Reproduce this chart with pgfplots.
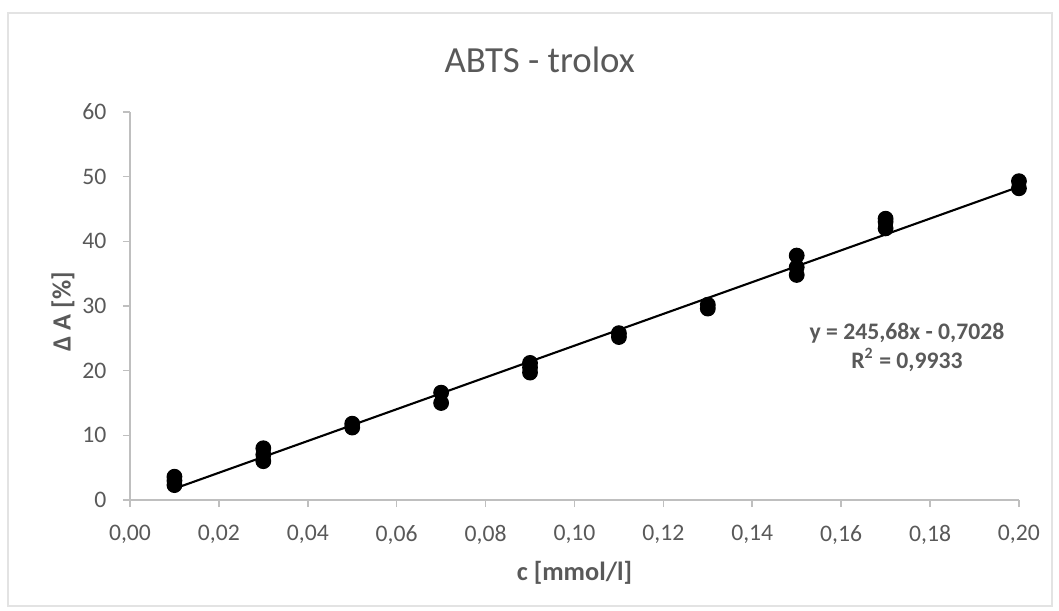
\documentclass[border=0pt]{standalone}
\usepackage{pgfplots}
\pgfplotsset{compat=1.18}
\usepackage{fontspec}
\setmainfont{Carlito}
\definecolor{txtgrey}{HTML}{595959}
\definecolor{axisgrey}{HTML}{BFBFBF}
\definecolor{framegrey}{HTML}{E3E3E3}
\begin{document}
\begin{tikzpicture}
% page size and chart-area frame
\path[use as bounding box] (-49.4pt,-42.18pt) rectangle (353.02pt,190pt);
\draw[framegrey, line width=0.6pt] (-46.4pt,-40.3pt) rectangle (350.4pt,185pt);
\begin{axis}[
  scale only axis,
  width=337.8pt, height=147.44pt,
  xmin=0, xmax=0.2, ymin=0, ymax=60,
  clip=false,
  axis lines*=left,
  axis line style={axisgrey, line width=0.6pt},
  xtick={0,0.02,0.04,0.06,0.08,0.1,0.12,0.14,0.16,0.18,0.2},
  ytick={0,10,20,30,40,50,60},
  tick align=outside,
  major tick length=2.7pt,
  tick style={axisgrey, line width=0.6pt},
  ticklabel style={font=\fontsize{9}{11}\selectfont, text=txtgrey},
  /pgf/number format/assume math mode=true,
  scaled x ticks=false,
  xticklabel style={yshift=-3.4pt, /pgf/number format/.cd, fixed, fixed zerofill, precision=2, use comma},
  yticklabel style={xshift=-2.7pt, /pgf/number format/.cd, fixed, precision=0},
  xlabel={c [mmol/l]},
  ylabel={Δ A [\%]},
  label style={font=\bfseries\fontsize{10}{12}\selectfont, text=txtgrey},
  xlabel style={at={(axis description cs:0.5,-0.188)}, anchor=center},
  ylabel style={at={(axis description cs:-0.0754,0.485)}, anchor=center},
  title={ABTS - trolox},
  title style={at={(axis description cs:0.461,1.095)}, anchor=center,
               font=\fontsize{14}{17}\selectfont, text=txtgrey},
]
% measured values
\addplot[only marks, mark=*, mark size=2.8pt, black] coordinates {
  (0.01,2.3) (0.01,3.0) (0.01,3.6)
  (0.03,6.0) (0.03,7.0) (0.03,8.0)
  (0.05,11.2) (0.05,11.8)
  (0.07,15.0) (0.07,16.6)
  (0.09,19.7) (0.09,20.5) (0.09,21.2)
  (0.11,25.2) (0.11,25.8)
  (0.13,29.6) (0.13,30.2)
  (0.15,34.8) (0.15,36.0) (0.15,37.8)
  (0.17,42.0) (0.17,43.0) (0.17,43.5)
  (0.20,48.2) (0.20,49.3)
};
% linear trend line y = 245.68x - 0.7028
\addplot[black, line width=0.8pt] coordinates {(0.01,1.7540) (0.20,48.4332)};
\node[align=center, font=\bfseries\fontsize{9}{11}\selectfont, text=txtgrey]
  at (axis cs:0.1748,23.6) {y = 245,68x - 0,7028\\R\textsuperscript{2} = 0,9933};
\end{axis}
\end{tikzpicture}
\end{document}
